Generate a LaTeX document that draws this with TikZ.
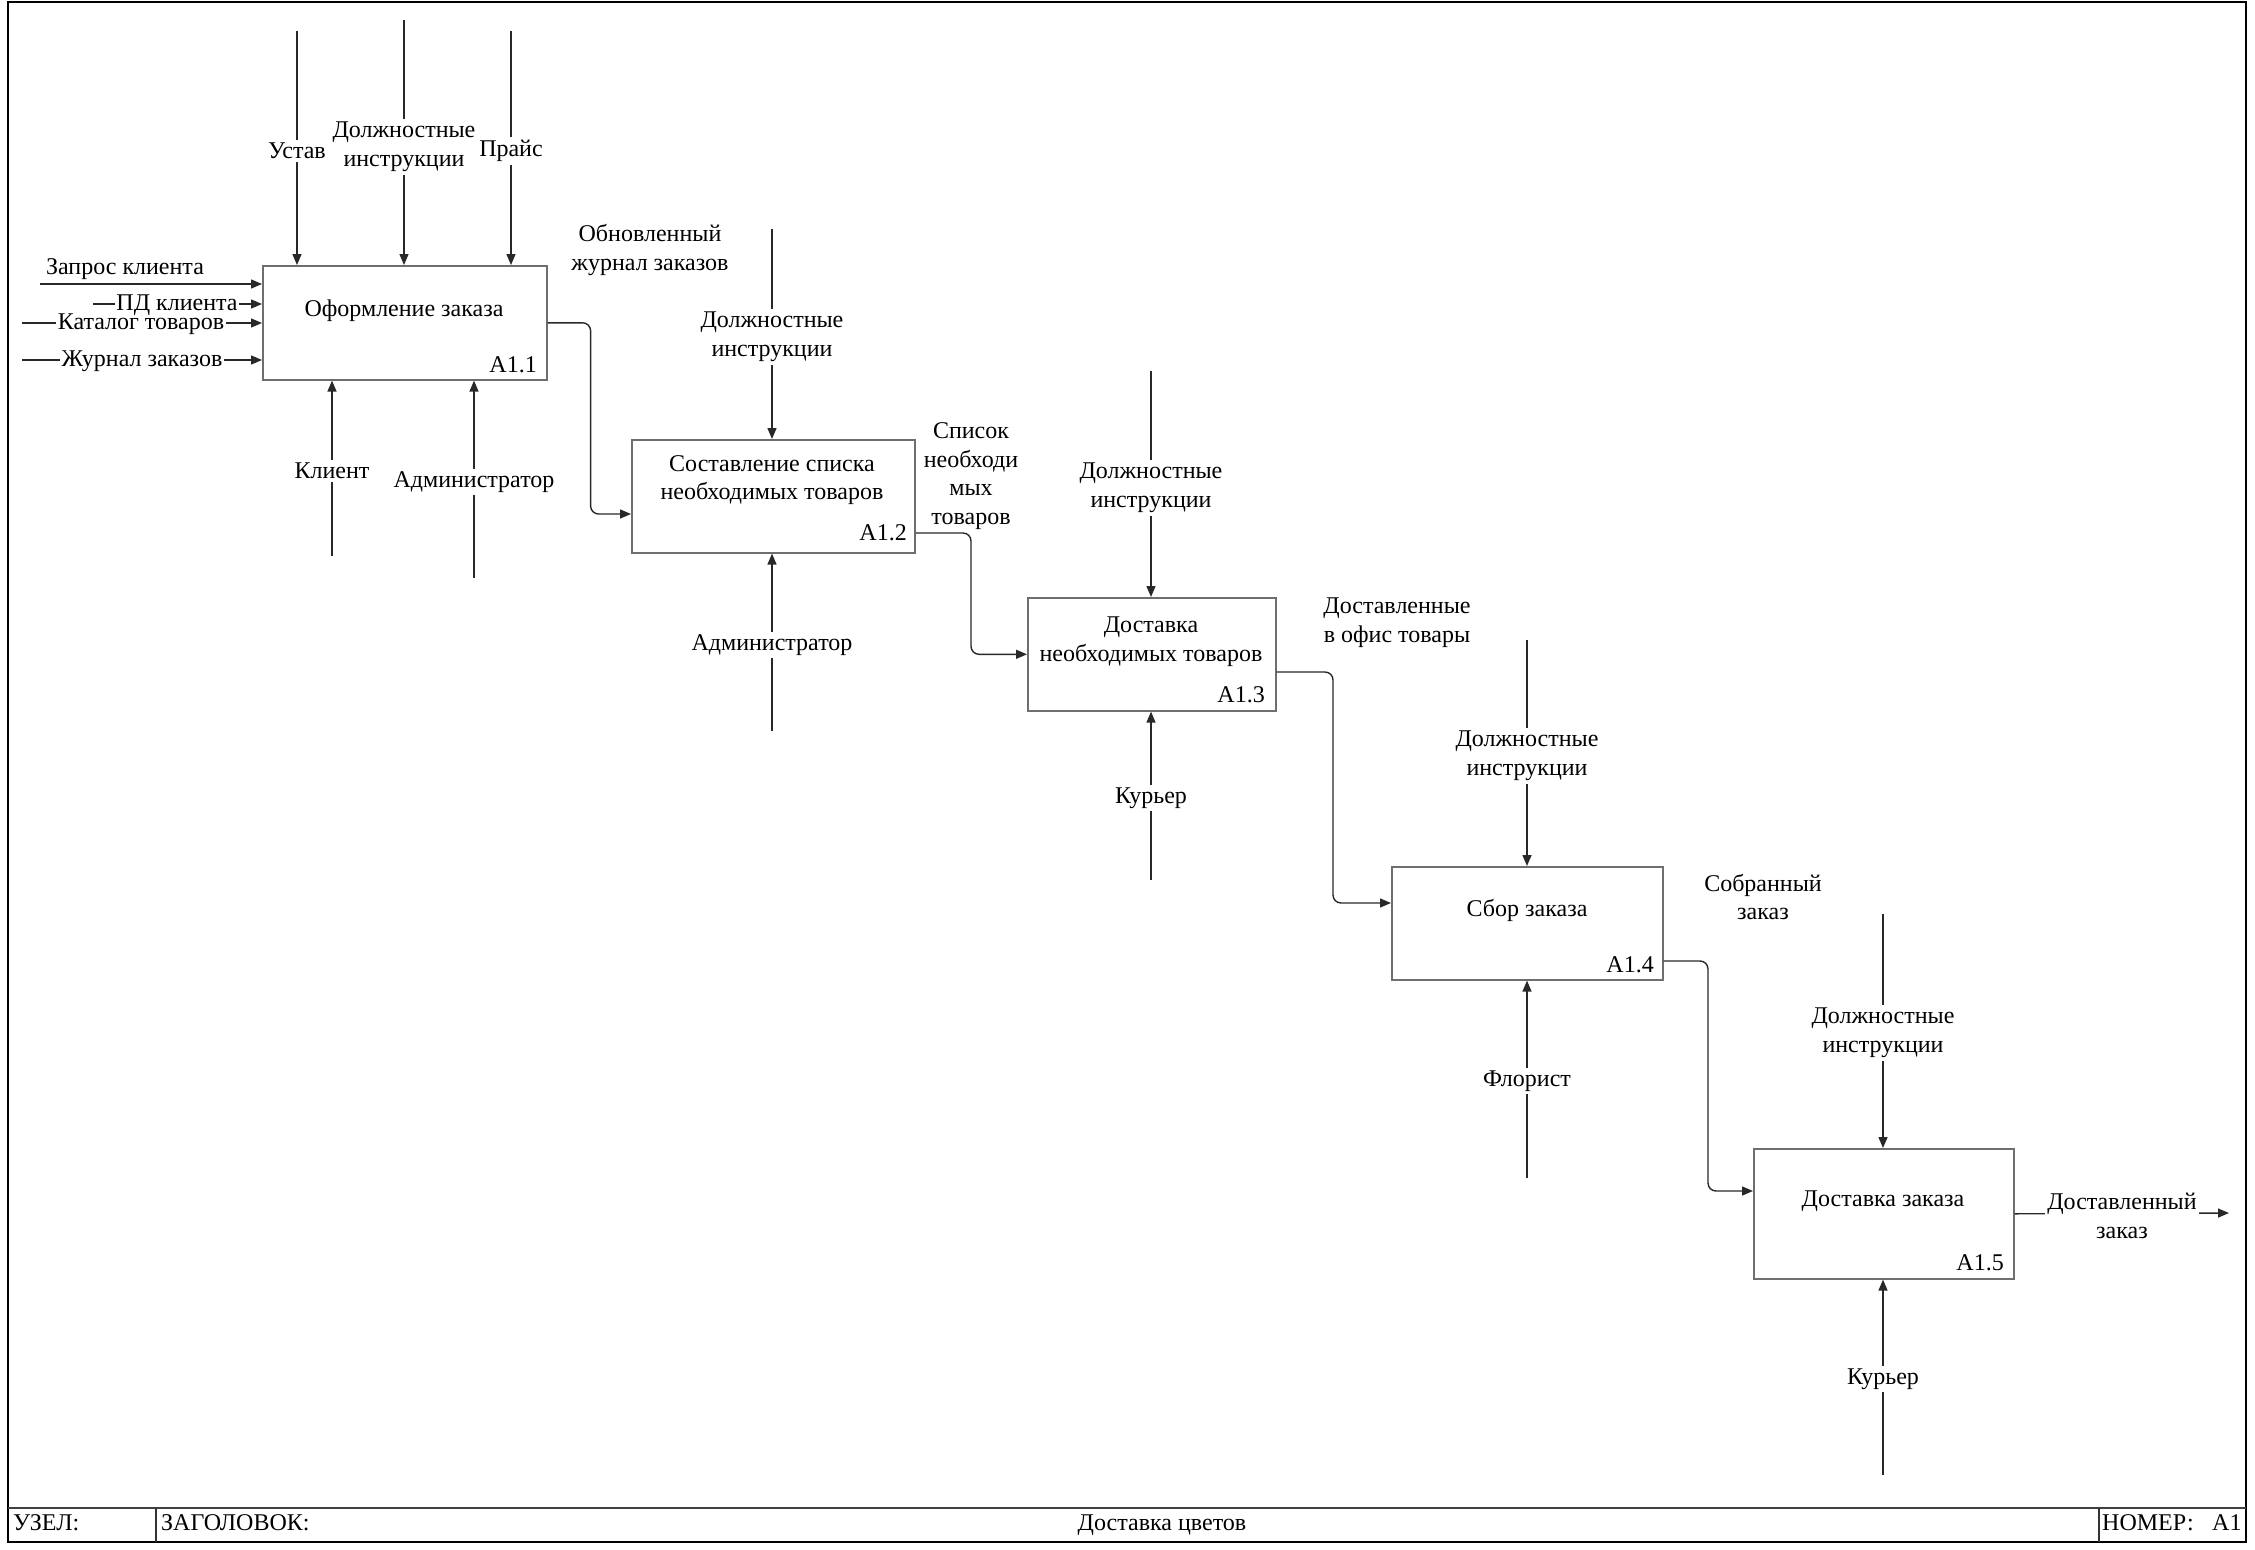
\documentclass[tikz,border=0pt]{standalone}
\usepackage{fontspec}
\setmainfont{Liberation Serif}
\usetikzlibrary{arrows.meta}
\definecolor{boxc}{RGB}{110,110,110}
\definecolor{linec}{RGB}{40,40,40}
\begin{document}
\begin{tikzpicture}[x=1pt,y=-1pt,
  font=\fontsize{24}{28.7}\selectfont,
  fbox/.style={draw=boxc,line width=1.6pt,anchor=north west,inner sep=0pt},
  ttl/.style={align=center,inner sep=0pt,yshift=-2pt},
  idn/.style={anchor=base east,inner sep=0pt},
  arr/.style={draw=linec,line width=1.4pt,-{Triangle[length=11pt,width=9pt]}},
  flow/.style={arr,rounded corners=8pt},
  lv/.style={fill=white,align=center,inner xsep=2pt,inner ysep=3pt,yshift=-3pt},
  lh/.style={fill=white,inner xsep=1.5pt,inner ysep=1pt,text height=13pt,text depth=0pt},
  lo/.style={align=center,inner sep=0pt,yshift=-3pt},
  tb/.style={anchor=base west,inner sep=0pt}]
\useasboundingbox (0,0) rectangle (2255,1550);

% frame and title block
\draw[line width=2pt] (8,2) rectangle (2246,1542);
\draw[line width=2pt,draw=black!75] (8,1508) -- (2246,1508);
\draw[line width=1.3pt,draw=black!80] (156,1508) -- (156,1542);
\draw[line width=1.3pt,draw=black!80] (2099,1508) -- (2099,1542);
\node[tb] (tu) at (13,1530) {УЗЕЛ:};
\node[tb] (tz) at (161,1530) {ЗАГОЛОВОК:};
\node[anchor=base,inner sep=0pt] (tt) at (1162,1530) {Доставка цветов};
\node[tb] (tn) at (2102,1530) {НОМЕР:};
\node[tb] (ta) at (2212,1530) {A1};

% boxes
\node[fbox,minimum width=284pt,minimum height=114pt] (b1) at (262,265) {};
\node[ttl] (t1) at (404,309) {Оформление заказа};
\node[idn] (n1) at (537,372) {A1.1};

\node[fbox,minimum width=283pt,minimum height=113pt] (b2) at (631,439) {};
\node[ttl] (t2) at (772,478) {Составление списка\\необходимых товаров};
\node[idn] (n2) at (907,540) {A1.2};

\node[fbox,minimum width=248pt,minimum height=113pt] (b3) at (1027,597) {};
\node[ttl] (t3) at (1151,640) {Доставка\\необходимых товаров};
\node[idn] (n3) at (1265,702) {A1.3};

\node[fbox,minimum width=271pt,minimum height=113pt] (b4) at (1391,866) {};
\node[ttl] (t4) at (1527,908) {Сбор заказа};
\node[idn] (n4) at (1654,972) {A1.4};

\node[fbox,minimum width=260pt,minimum height=130pt] (b5) at (1753,1148) {};
\node[ttl] (t5) at (1883,1199) {Доставка заказа};
\node[idn] (n5) at (2004,1270) {A1.5};

% A1.1 controls
\coordinate (c11) at (297,31);
\coordinate (c12) at (404,20);
\coordinate (c13) at (511,31);
\draw[arr] (c11) -- (c11 |- b1.north);
\draw[arr] (c12) -- (c12 |- b1.north);
\draw[arr] (c13) -- (c13 |- b1.north);
\node[lv] (lc11) at (297,148) {Устав};
\node[lv] (lc12) at (404,144) {Должностные\\инструкции};
\node[lv] (lc13) at (511,148) {Прайс};

% A1.1 inputs
\coordinate (i11) at (40,284);
\coordinate (i12) at (93,304);
\coordinate (i13) at (22,323);
\coordinate (i14) at (22,360);
\draw[arr] (i11) -- (i11 -| b1.west);
\draw[arr] (i12) -- (i12 -| b1.west);
\draw[arr] (i13) -- (i13 -| b1.west);
\draw[arr] (i14) -- (i14 -| b1.west);
\node[lo] (li11) at (125,266) {Запрос клиента};
\node[lh] (li12) at (177,304) {ПД клиента};
\node[lh] (li13) at (141,323) {Каталог товаров};
\node[lh] (li14) at (142,360) {Журнал заказов};

% A1.1 mechanisms
\coordinate (m11) at (332,556);
\coordinate (m12) at (474,578);
\draw[arr] (m11) -- (m11 |- b1.south);
\draw[arr] (m12) -- (m12 |- b1.south);
\node[lv] (lm11) at (332,468) {Клиент};
\node[lv] (lm12) at (474,479) {Администратор};

% A1.1 -> A1.2
\draw[flow] (b1.east) -- ++(43,0) |- (b2.west |- 0,514);
\node[lo] (lo1) at (650,247) {Обновленный\\журнал заказов};

% A1.2
\coordinate (c21) at (772,229);
\coordinate (m21) at (772,731);
\draw[arr] (c21) -- (c21 |- b2.north);
\draw[arr] (m21) -- (m21 |- b2.south);
\node[lv] (lc21) at (772,334) {Должностные\\инструкции};
\node[lv] (lm21) at (772,642) {Администратор};
\draw[flow] (b2.east |- 0,533) -- (971,533) |- (b3.west);
\node[lo] (lo2) at (971,473) {Список\\необходи\\мых\\товаров};

% A1.3
\coordinate (c31) at (1151,371);
\coordinate (m31) at (1151,880);
\draw[arr] (c31) -- (c31 |- b3.north);
\draw[arr] (m31) -- (m31 |- b3.south);
\node[lv] (lc31) at (1151,485) {Должностные\\инструкции};
\node[lv] (lm31) at (1151,795) {Курьер};
\draw[flow] (b3.east |- 0,672) -- (1333,672) |- (b4.west |- 0,903);
\node[lo] (lo3) at (1397,620) {Доставленные\\в офис товары};

% A1.4
\coordinate (c41) at (1527,640);
\coordinate (m41) at (1527,1178);
\draw[arr] (c41) -- (c41 |- b4.north);
\draw[arr] (m41) -- (m41 |- b4.south);
\node[lv] (lc41) at (1527,753) {Должностные\\инструкции};
\node[lv] (lm41) at (1527,1078) {Флорист};
\draw[flow] (b4.east |- 0,961) -- (1708,961) |- (b5.west |- 0,1191);
\node[lo] (lo4) at (1763,894) {Собранный\\заказ};

% A1.5
\coordinate (c51) at (1883,914);
\coordinate (m51) at (1883,1475);
\coordinate (o51) at (2229,1213);
\draw[arr] (c51) -- (c51 |- b5.north);
\draw[arr] (m51) -- (m51 |- b5.south);
\node[lv] (lc51) at (1883,1030) {Должностные\\инструкции};
\node[lv] (lm51) at (1883,1376) {Курьер};
\draw[arr] (b5.east) -- (o51);
\node[lv,inner ysep=1pt] (lo5) at (2122,1213) {Доставленный\\заказ};
\end{tikzpicture}
\end{document}
